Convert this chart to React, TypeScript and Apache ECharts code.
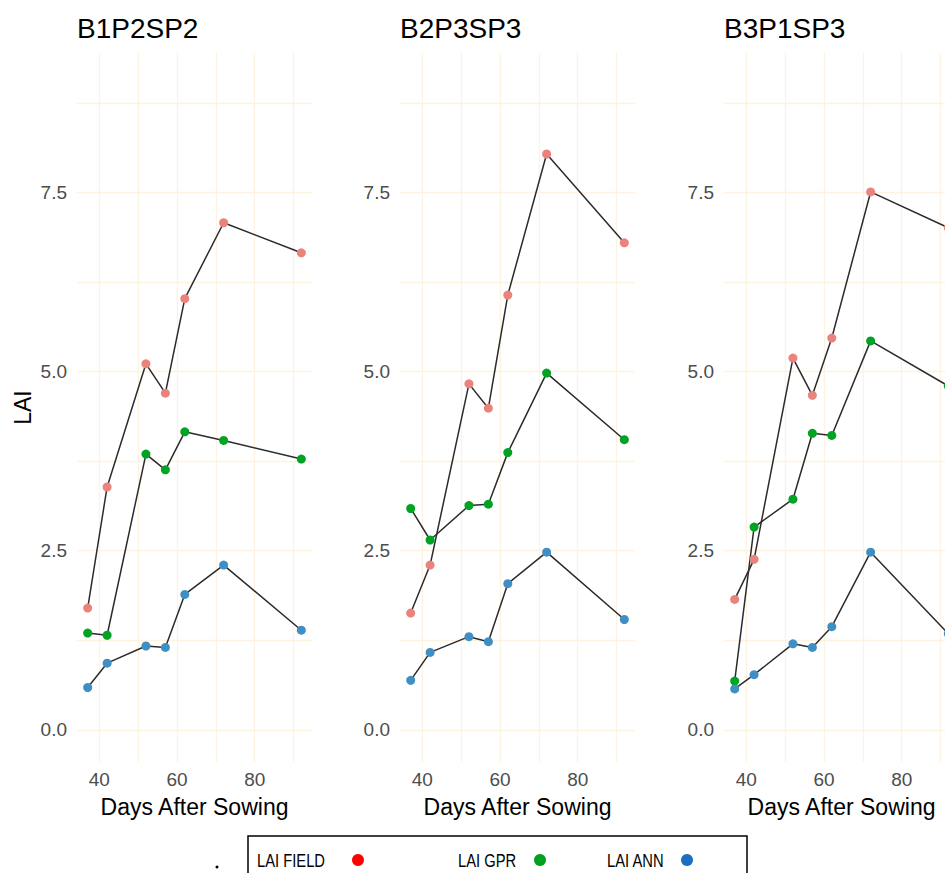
import React, { useEffect, useRef } from "react";
import * as echarts from "echarts";

// Days after sowing at which LAI was measured / estimated
const days = [37, 42, 52, 57, 62, 72, 92];

const panelNames = ["B1P2SP2", "B2P3SP3", "B3P1SP3"];
const seriesNames = ["LAI FIELD", "LAI GPR", "LAI ANN"];

// One row per panel, one value per day
const laiField = [
  [1.7, 3.39, 5.11, 4.7, 6.02, 7.08, 6.66],
  [1.63, 2.3, 4.83, 4.49, 6.07, 8.04, 6.8],
  [1.82, 2.38, 5.19, 4.67, 5.47, 7.51, 7.01],
];
const laiGpr = [
  [1.35, 1.32, 3.85, 3.63, 4.16, 4.04, 3.78],
  [3.09, 2.65, 3.13, 3.15, 3.87, 4.98, 4.05],
  [0.68, 2.83, 3.22, 4.14, 4.11, 5.43, 4.8],
];
const laiAnn = [
  [0.59, 0.93, 1.17, 1.15, 1.89, 2.3, 1.39],
  [0.69, 1.08, 1.3, 1.23, 2.04, 2.48, 1.54],
  [0.57, 0.77, 1.2, 1.15, 1.44, 2.48, 1.34],
];

const yTicks = [0, 2.5, 5, 7.5];
const yGridValues = [0, 1.25, 2.5, 3.75, 5, 6.25, 7.5, 8.75];
const xTicks = [40, 60, 80];
const xGridValues = [40, 50, 60, 70, 80, 90];

const pointColors = ["#EB837D", "#00A323", "#3F8FC4"];
const legendColors = ["#FF0000", "#00A020", "#1A6FC0"];

const FONT = "'Liberation Sans', Arial, sans-serif";
const panelLefts = [77, 400, 724];
const PANEL_W = 235;
const PANEL_TOP = 53;
const PANEL_H = 709;
const GRID_COLOR = "#FDF3E0";
// The drawing surface is wider than the window; the last panel runs past the right edge.
const CANVAS_W = 985;
const CANVAS_H = 873;

export default function App() {
  const ref = useRef<HTMLDivElement>(null);

  useEffect(() => {
    if (!ref.current) return;
    document.body.style.overflow = "hidden";
    const chart = echarts.init(ref.current, null, { renderer: "svg" });

    const grids = panelLefts.map((left) => ({
      left,
      top: PANEL_TOP,
      width: PANEL_W,
      height: PANEL_H,
      containLabel: false,
    }));

    const xAxes = panelLefts.map((_, i) => ({
      type: "value",
      gridIndex: i,
      min: 34.25,
      max: 94.75,
      name: "Days After Sowing",
      nameLocation: "middle",
      nameGap: 33,
      nameTextStyle: { fontFamily: FONT, fontSize: 23, color: "#000" },
      axisLine: { show: false },
      axisTick: { show: false },
      splitLine: { show: false },
      axisLabel: {
        customValues: xTicks,
        margin: 8,
        fontFamily: FONT,
        fontSize: 19,
        color: "#4D4D4D",
      },
    }));

    const yAxes = panelLefts.map((_, i) => ({
      type: "value",
      gridIndex: i,
      min: -0.45,
      max: 9.45,
      axisLine: { show: false },
      axisTick: { show: false },
      splitLine: { show: false },
      axisLabel: {
        customValues: yTicks,
        formatter: (v: number) => v.toFixed(1),
        margin: 10,
        fontFamily: FONT,
        fontSize: 19,
        color: "#4D4D4D",
      },
    }));

    const groups = [laiField, laiGpr, laiAnn];
    const series: any[] = [];
    panelLefts.forEach((_, p) => {
      groups.forEach((g, s) => {
        series.push({
          type: "line",
          name: seriesNames[s],
          xAxisIndex: p,
          yAxisIndex: p,
          data: days.map((d, k) => [d, g[p][k]]),
          symbol: "circle",
          symbolSize: 9,
          showSymbol: true,
          lineStyle: { color: "#2B2B2B", width: 1.5 },
          itemStyle: { color: pointColors[s], borderWidth: 0 },
          z: 3,
          markLine:
            s === 0
              ? {
                  silent: true,
                  z: 1,
                  symbol: ["none", "none"],
                  label: { show: false },
                  lineStyle: { type: "solid", color: GRID_COLOR, width: 1.3 },
                  data: [
                    ...yGridValues.map((v) => ({ yAxis: v })),
                    ...xGridValues.map((v) => ({ xAxis: v })),
                  ],
                }
              : undefined,
        });
      });
    });

    const graphics: any[] = [];
    panelNames.forEach((name, i) => {
      graphics.push({
        type: "text",
        x: panelLefts[i],
        y: 28,
        style: {
          text: name,
          fontFamily: FONT,
          fontSize: 28,
          fill: "#000",
          align: "left",
          verticalAlign: "middle",
        },
      });
    });
    graphics.push({
      type: "text",
      x: 23,
      y: PANEL_TOP + PANEL_H / 2,
      rotation: Math.PI / 2,
      style: {
        text: "LAI",
        fontFamily: FONT,
        fontSize: 23,
        fill: "#000",
        align: "center",
        verticalAlign: "middle",
      },
    });

    // Legend box along the bottom edge
    graphics.push({
      type: "rect",
      shape: { x: 248, y: 836, width: 499, height: 80 },
      style: { fill: "none", stroke: "#000", lineWidth: 1.5 },
    });
    const legendTextX = [257, 458, 607];
    const legendDotX = [358, 540, 687];
    seriesNames.forEach((n, i) => {
      graphics.push({
        type: "text",
        x: legendTextX[i],
        y: 860,
        scaleX: 0.82,
        style: {
          text: n,
          fontFamily: FONT,
          fontSize: 18,
          fill: "#000",
          align: "left",
          verticalAlign: "middle",
        },
      });
      graphics.push({
        type: "circle",
        shape: { cx: legendDotX[i], cy: 860, r: 6 },
        style: { fill: legendColors[i] },
      });
    });
    graphics.push({
      type: "circle",
      shape: { cx: 217, cy: 867, r: 1.5 },
      style: { fill: "#000" },
    });

    chart.setOption({
      animation: false,
      backgroundColor: "#FFFFFF",
      grid: grids,
      xAxis: xAxes,
      yAxis: yAxes,
      series,
      graphic: graphics,
    });

    return () => chart.dispose();
  }, []);

  return (
    <div
      ref={ref}
      style={{
        position: "fixed",
        left: 0,
        top: 0,
        width: CANVAS_W,
        height: CANVAS_H,
      }}
    />
  );
}
